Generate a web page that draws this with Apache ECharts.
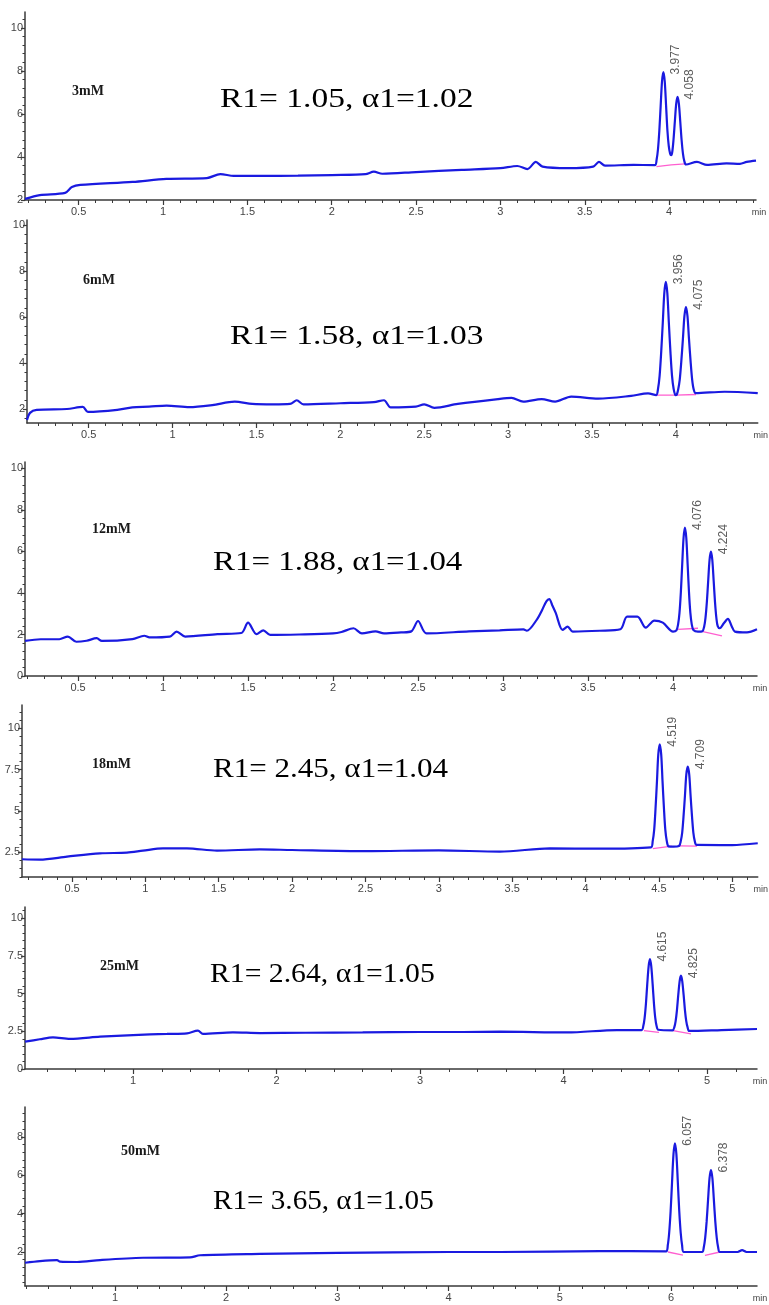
<!DOCTYPE html>
<html><head><meta charset="utf-8">
<script src="https://cdn.jsdelivr.net/npm/echarts@6.0.0/dist/echarts.min.js"></script>
<style>html,body{margin:0;padding:0;background:#fff}#c{width:769px;height:1305px}</style>
</head><body><div id="c"></div>
<script>
// ---------- data ----------
const concLabels = ['3mM', '6mM', '12mM', '18mM', '25mM', '50mM'];
const resLabels = ['R1= 1.05, \u03b11=1.02', 'R1= 1.58, \u03b11=1.03', 'R1= 1.88, \u03b11=1.04',
                   'R1= 2.45, \u03b11=1.04', 'R1= 2.64, \u03b11=1.05', 'R1= 3.65, \u03b11=1.05'];

const trace3mM = [[0.182,2.05],[0.27,2.23],[0.42,2.33],[0.46,2.6],[0.51,2.7],[0.82,2.84],[1.02,2.98],[1.26,3.02],[1.34,3.2],[1.42,3.12],[1.58,3.12],[1.8,3.13],[2.0,3.16],[2.2,3.2],[2.25,3.32],[2.3,3.22],[2.5,3.3],[2.77,3.4],[3.0,3.48],[3.10,3.58],[3.16,3.44],[3.21,3.77],[3.25,3.55],[3.40,3.48],[3.55,3.55],[3.584,3.77],[3.62,3.6],[3.79,3.63],[3.916,3.62],
  [3.926,3.88],[3.934,4.36],[3.942,5.22],[3.95,6.39],[3.958,7.52],[3.966,7.95],[3.974,7.52],[3.982,6.39],[3.99,5.22],[3.998,4.5],[4.006,4.15],[4.012,4.08],[4.018,4.2],[4.026,4.8],[4.034,5.65],[4.042,6.47],[4.05,6.79],[4.058,6.47],[4.066,5.65],[4.074,4.79],[4.082,4.16],[4.09,3.81],[4.1,3.65],[4.165,3.77],[4.225,3.63],[4.34,3.7],[4.42,3.68],[4.46,3.77],[4.515,3.83]];
const trace6mM = [[0.132,1.52],[0.15,1.83],[0.19,1.96],[0.37,2.0],[0.465,2.09],[0.495,1.87],[0.67,1.96],[0.76,2.07],[0.86,2.1],[0.964,2.15],[1.1,2.08],[1.237,2.17],[1.37,2.32],[1.475,2.22],[1.6,2.2],[1.7,2.22],[1.74,2.38],[1.78,2.2],[2.0,2.25],[2.2,2.3],[2.26,2.38],[2.3,2.07],[2.45,2.1],[2.5,2.2],[2.56,2.05],[2.7,2.22],[2.94,2.43],[3.02,2.48],[3.09,2.32],[3.2,2.43],[3.28,2.32],[3.376,2.54],[3.537,2.45],[3.733,2.57],[3.834,2.68],[3.882,2.6],
  [3.894,2.9],[3.903,3.44],[3.912,4.42],[3.922,5.76],[3.931,7.04],[3.94,7.53],[3.949,7.04],[3.958,5.76],[3.968,4.42],[3.977,3.44],[3.986,2.9],[3.998,2.6],[4.005,2.62],
  [4.014,2.86],[4.023,3.28],[4.032,4.04],[4.042,5.06],[4.051,6.05],[4.06,6.43],[4.069,6.05],[4.078,5.06],[4.088,4.04],[4.097,3.28],[4.106,2.86],[4.118,2.69],[4.29,2.75],[4.488,2.69]];
const trace12mM = [[0.188,1.69],[0.28,1.77],[0.39,1.77],[0.44,1.9],[0.49,1.65],[0.55,1.7],[0.61,1.82],[0.64,1.69],[0.82,1.78],[0.89,1.94],[0.92,1.86],[1.04,1.9],[1.08,2.14],[1.13,1.9],[1.32,2.02],[1.46,2.07],[1.5,2.57],[1.55,2.02],[1.59,2.2],[1.63,1.98],[1.8,2.0],[2.0,2.05],[2.05,2.12],[2.12,2.3],[2.17,2.05],[2.25,2.15],[2.3,2.05],[2.4,2.1],[2.46,2.15],[2.5,2.65],[2.55,2.05],[2.8,2.15],[2.98,2.2],[3.12,2.25],[3.14,2.18],[3.2,2.73],[3.23,3.18],[3.255,3.6],[3.272,3.7],[3.29,3.4],[3.31,3.04],[3.35,2.22],[3.38,2.38],[3.41,2.14],[3.57,2.18],[3.69,2.25],[3.73,2.86],[3.79,2.86],[3.84,2.33],[3.89,2.67],[3.94,2.57],[4.0,2.14],[4.02,2.2],
  [4.03,2.5],[4.038,3.04],[4.046,4.03],[4.054,5.37],[4.062,6.66],[4.07,7.15],[4.078,6.66],[4.086,5.37],[4.094,4.03],[4.102,3.04],[4.11,2.5],[4.12,2.22],[4.147,2.14],[4.173,2.16],
  [4.183,2.37],[4.191,2.8],[4.199,3.56],[4.207,4.6],[4.215,5.6],[4.223,5.99],[4.231,5.6],[4.239,4.6],[4.247,3.56],[4.255,2.8],[4.263,2.4],[4.275,2.3],[4.3,2.55],[4.323,2.75],[4.345,2.4],[4.364,2.14],[4.435,2.1],[4.494,2.25]];
const trace18mM = [[0.159,2.06],[0.28,2.04],[0.466,2.22],[0.69,2.42],[0.874,2.46],[0.983,2.58],[1.12,2.72],[1.283,2.72],[1.488,2.58],[1.78,2.66],[2.0,2.62],[2.5,2.55],[3.0,2.6],[3.416,2.52],[3.757,2.72],[4.098,2.7],[4.446,2.78],
  [4.458,3.16],[4.468,3.84],[4.477,5.09],[4.487,6.78],[4.496,8.4],[4.506,9.03],[4.516,8.4],[4.525,6.78],[4.535,5.09],[4.544,3.84],[4.554,3.16],[4.566,2.84],[4.6,2.82],[4.637,2.86],
  [4.649,3.15],[4.659,3.68],[4.668,4.64],[4.678,5.94],[4.687,7.19],[4.697,7.67],[4.707,7.19],[4.716,5.94],[4.726,4.64],[4.735,3.68],[4.745,3.15],[4.757,2.93],[5.0,2.92],[5.174,3.03]];
const trace25mM = [[0.247,1.81],[0.35,1.97],[0.442,2.1],[0.56,2.0],[0.77,2.14],[1.0,2.25],[1.236,2.32],[1.376,2.36],[1.452,2.54],[1.487,2.32],[1.696,2.43],[1.885,2.38],[2.2,2.4],[2.6,2.42],[3.0,2.45],[3.3,2.45],[3.557,2.47],[4.024,2.42],[4.372,2.58],[4.544,2.58],
  [4.556,2.86],[4.565,3.38],[4.574,4.32],[4.583,5.59],[4.593,6.81],[4.602,7.28],[4.611,6.81],[4.621,5.59],[4.63,4.32],[4.639,3.38],[4.648,2.86],[4.66,2.6],[4.76,2.56],
  [4.772,2.77],[4.781,3.17],[4.79,3.89],[4.799,4.87],[4.809,5.82],[4.818,6.18],[4.827,5.82],[4.837,4.87],[4.846,3.89],[4.855,3.17],[4.864,2.77],[4.876,2.52],[5.1,2.58],[5.348,2.65]];
const trace50mM = [[0.191,1.44],[0.326,1.53],[0.479,1.58],[0.506,1.5],[0.659,1.48],[0.866,1.58],[1.252,1.7],[1.675,1.72],[1.765,1.83],[2.304,1.9],[3.0,1.95],[4.0,2.0],[4.463,2.0],[5.362,2.05],[5.956,2.03],
  [5.972,2.37],[5.984,2.99],[5.997,4.11],[6.01,5.63],[6.023,7.1],[6.036,7.66],[6.049,7.1],[6.062,5.63],[6.075,4.11],[6.088,2.99],[6.1,2.37],[6.116,2.0],[6.28,2.0],
  [6.296,2.26],[6.308,2.73],[6.321,3.58],[6.334,4.73],[6.347,5.84],[6.36,6.27],[6.373,5.84],[6.386,4.73],[6.399,3.58],[6.412,2.73],[6.424,2.26],[6.44,2.0],[6.6,2.0],[6.64,2.1],[6.68,2.0],[6.774,2.0]];

const peaks3mM = [[3.966,7.95,'3.977'],[4.05,6.79,'4.058']];
const peaks6mM = [[3.94,7.53,'3.956'],[4.06,6.43,'4.075']];
const peaks12mM = [[4.07,7.15,'4.076'],[4.223,5.99,'4.224']];
const peaks18mM = [[4.506,9.03,'4.519'],[4.697,7.67,'4.709']];
const peaks25mM = [[4.602,7.28,'4.615'],[4.818,6.18,'4.825']];
const peaks50mM = [[6.036,7.66,'6.057'],[6.36,6.27,'6.378']];

const pink3mM = [[[3.925,3.55],[4.012,3.63],[4.095,3.68]]];
const pink6mM = [[[3.887,2.6],[4.0,2.6],[4.12,2.63]]];
const pink12mM = [[[4.03,2.25],[4.147,2.3]],[[4.176,2.14],[4.288,1.93]]];
const pink18mM = [[[4.459,2.7],[4.588,2.85]],[[4.64,2.87],[4.76,2.86]]];
const pink25mM = [[[4.56,2.54],[4.665,2.42]],[[4.763,2.54],[4.888,2.32]]];
const pink50mM = [[[5.973,2.0],[6.108,1.84]],[[6.306,1.83],[6.441,2.0]]];

const xTicks3mM = [0.5,1,1.5,2,2.5,3,3.5,4];
const xTicks6mM = [0.5,1,1.5,2,2.5,3,3.5,4];
const xTicks12mM = [0.5,1,1.5,2,2.5,3,3.5,4];
const xTicks18mM = [0.5,1,1.5,2,2.5,3,3.5,4,4.5,5];
const xTicks25mM = [1,2,3,4,5];
const xTicks50mM = [1,2,3,4,5,6];
const yTicks3mM = [2,4,6,8,10];
const yTicks6mM = [2,4,6,8,10];
const yTicks12mM = [0,2,4,6,8,10];
const yTicks18mM = [2.5,5,7.5,10];
const yTicks25mM = [0,2.5,5,7.5,10];
const yTicks50mM = [2,4,6,8];

// ---------- layout ----------
const panels = [
  {trace: trace3mM, peaks: peaks3mM, pink: pink3mM, xt: xTicks3mM, xs: 0.1, yt: yTicks3mM, ys: 0.4,
   grid: {left: 25, top: 12, width: 731, height: 188}, x: [0.182, 4.515], y: [2, 10.74],
   conc: [72, 91], res: [220, 100], rs: 1.24},
  {trace: trace6mM, peaks: peaks6mM, pink: pink6mM, xt: xTicks6mM, xs: 0.1, yt: yTicks6mM, ys: 0.4,
   grid: {left: 27, top: 220, width: 733, height: 203}, x: [0.132, 4.488], y: [1.39, 10.22],
   conc: [83, 280], res: [230, 337], rs: 1.24},
  {trace: trace12mM, peaks: peaks12mM, pink: pink12mM, xt: xTicks12mM, xs: 0.1, yt: yTicks12mM, ys: 0.4,
   grid: {left: 25, top: 462, width: 732, height: 214}, x: [0.188, 4.494], y: [0, 10.31],
   conc: [92, 529], res: [213, 563], rs: 1.22},
  {trace: trace18mM, peaks: peaks18mM, pink: pink18mM, xt: xTicks18mM, xs: 0.1, yt: yTicks18mM, ys: 0.5,
   grid: {left: 22, top: 705, width: 736, height: 172}, x: [0.159, 5.174], y: [0.985, 11.41],
   conc: [92, 764], res: [213, 770], rs: 1.15},
  {trace: trace25mM, peaks: peaks25mM, pink: pink25mM, xt: xTicks25mM, xs: 0.2, yt: yTicks25mM, ys: 0.5,
   grid: {left: 25, top: 907, width: 732, height: 162}, x: [0.247, 5.348], y: [0, 10.73],
   conc: [100, 966], res: [210, 975], rs: 1.10},
  {trace: trace50mM, peaks: peaks50mM, pink: pink50mM, xt: xTicks50mM, xs: 0.2, yt: yTicks50mM, ys: 0.4,
   grid: {left: 25, top: 1107, width: 732, height: 179}, x: [0.191, 6.774], y: [0.23, 9.55],
   conc: [121, 1151], res: [213, 1202], rs: 1.08}
];

function steps(a, b, s) {
  const out = [];
  for (let k = Math.ceil(a / s - 1e-9); k * s <= b + 1e-9; k++) out.push(+(k * s).toFixed(4));
  return out;
}

const AX = '#3a3a3a';
const grids = [], xAxes = [], yAxes = [], series = [], graphics = [];
panels.forEach((p, i) => {
  grids.push(Object.assign({containLabel: false}, p.grid));
  xAxes.push({
    type: 'value', gridIndex: i, min: p.x[0], max: p.x[1], position: 'bottom',
    axisLine: {onZero: false, lineStyle: {color: AX, width: 1.5}},
    axisTick: {show: true, customValues: p.xt, length: 5, lineStyle: {color: AX, width: 1.2}},
    axisLabel: {customValues: p.xt, fontSize: 11, color: '#444', margin: 6, fontFamily: 'Liberation Sans'},
    splitLine: {show: false},
    name: 'min', nameLocation: 'end', nameGap: 3,
    nameTextStyle: {fontSize: 9, color: '#444', align: 'center', verticalAlign: 'top', padding: [8, 0, 0, 0], fontFamily: 'Liberation Sans'}
  });
  xAxes.push({
    type: 'value', gridIndex: i, min: p.x[0], max: p.x[1], position: 'bottom',
    axisLine: {show: false},
    axisTick: {show: true, customValues: steps(p.x[0], p.x[1], p.xs), length: 3, lineStyle: {color: AX, width: 1}},
    axisLabel: {show: false}, splitLine: {show: false}
  });
  yAxes.push({
    type: 'value', gridIndex: i, min: p.y[0], max: p.y[1], position: 'left',
    axisLine: {show: true, onZero: false, lineStyle: {color: AX, width: 1.5}},
    axisTick: {show: true, customValues: p.yt, length: 4, lineStyle: {color: AX, width: 1.2}},
    axisLabel: {customValues: p.yt, fontSize: 11, color: '#444', margin: 2, fontFamily: 'Liberation Sans'},
    splitLine: {show: false}
  });
  yAxes.push({
    type: 'value', gridIndex: i, min: p.y[0], max: p.y[1], position: 'left',
    axisLine: {show: false},
    axisTick: {show: true, customValues: steps(p.y[0], p.y[1], p.ys), length: 2.5, lineStyle: {color: AX, width: 1}},
    axisLabel: {show: false}, splitLine: {show: false}
  });
  p.pink.forEach(seg => series.push({
    type: 'line', xAxisIndex: 2 * i, yAxisIndex: 2 * i, data: seg, symbol: 'none', silent: true,
    lineStyle: {color: '#ff5fd0', width: 1.3}, z: 2
  }));
  series.push({
    type: 'line', xAxisIndex: 2 * i, yAxisIndex: 2 * i, data: p.trace, symbol: 'none', smooth: 0.3,
    silent: true, lineStyle: {color: '#1a1ae0', width: 2.2}, z: 3
  });
  series.push({
    type: 'scatter', xAxisIndex: 2 * i, yAxisIndex: 2 * i, data: p.peaks, symbolSize: 1, silent: true,
    itemStyle: {color: 'rgba(0,0,0,0)'},
    label: {show: true, formatter: q => q.data[2], rotate: 90, position: [13, 3], align: 'left',
            verticalAlign: 'middle', fontSize: 12, color: '#333', fontFamily: 'Liberation Sans'}, z: 4
  });
  graphics.push({type: 'text', x: p.conc[0], y: p.conc[1],
    style: {text: concLabels[i], font: 'bold 14px "Liberation Serif"', fill: '#1a1a1a',
            align: 'left', verticalAlign: 'middle', textAlign: 'left', textVerticalAlign: 'middle'}});
  graphics.push({type: 'text', x: p.res[0], y: p.res[1], scaleX: p.rs,
    style: {text: resLabels[i], font: '27px "Liberation Serif"', fill: '#000',
            align: 'left', verticalAlign: 'middle', textAlign: 'left', textVerticalAlign: 'middle'}});
});

const chart = echarts.init(document.getElementById('c'), null, {renderer: 'canvas'});
chart.setOption({
  animation: false,
  backgroundColor: '#fff',
  grid: grids, xAxis: xAxes, yAxis: yAxes, series: series, graphic: graphics
});
</script>
</body></html>
